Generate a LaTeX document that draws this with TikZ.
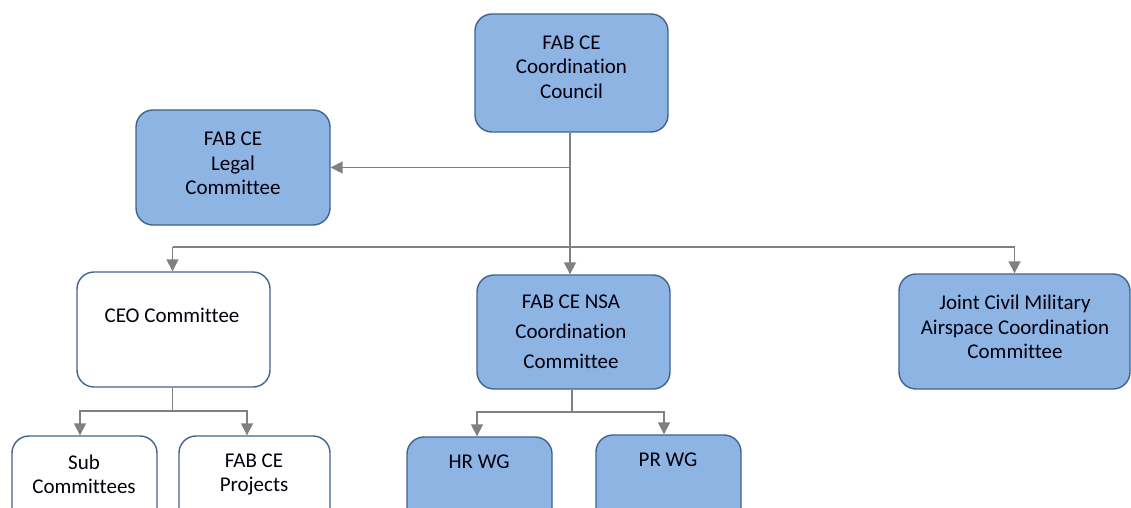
\documentclass[tikz,border=0pt]{standalone}
\usepackage{fontspec}
\setmainfont{Carlito}[Ligatures={NoCommon}]
\usetikzlibrary{arrows.meta}
\definecolor{boxblue}{HTML}{8EB4E3}
\definecolor{boxedge}{HTML}{41648F}
\definecolor{conn}{HTML}{808080}
\begin{document}
\begin{tikzpicture}[x=1pt,y=-1pt,
  box/.style={draw=boxedge,line width=1.4pt,rounded corners=17pt,inner sep=0pt,fill=boxblue},
  wbox/.style={box,fill=white},
  txt/.style={align=center,font=\fontsize{21}{24.5}\selectfont,inner sep=0pt,text=black!95!blue},
  line/.style={draw=conn,line width=1.7pt},
  arr/.style={line,-{Triangle[length=12pt,width=12pt]},shorten >=0pt}]
\useasboundingbox (0,0) rectangle (1131,508);
\clip (0,0) rectangle (1131,508);
% boxes
\node[box,minimum width=193pt,minimum height=118pt] (council) at (571.5,73) {};
\node[box,minimum width=194pt,minimum height=115pt] (legal) at (233,167.5) {};
\node[wbox,minimum width=193pt,minimum height=115pt] (ceo) at (173.5,329.5) {};
\node[box,minimum width=193pt,minimum height=114pt] (nsa) at (573.5,332) {};
\node[box,minimum width=231pt,minimum height=115pt] (joint) at (1014.5,331.5) {};
\node[wbox,minimum width=145pt,minimum height=100pt] (sub) at (84.5,486) {};
\node[wbox,minimum width=151pt,minimum height=100pt] (proj) at (254.5,486) {};
\node[box,minimum width=145pt,minimum height=100pt] (hr) at (479.5,487) {};
\node[box,minimum width=145pt,minimum height=100pt] (pr) at (668.5,485) {};
% texts
\node[txt] (tcouncil) at (571.5,67) {FAB CE\\Coordination\\Council};
\node[txt] (tlegal) at (233,163.5) {FAB CE\\Legal\\Committee};
\node[txt] (tceo) at (172,315) {CEO Committee};
\node[txt,font=\fontsize{21}{30}\selectfont] (tnsa) at (571,332) {FAB CE NSA\\Coordination\\Committee};
\node[txt] (tjoint) at (1015,327) {Joint Civil Military\\Airspace Coordination\\Committee};
\node[txt] (tsub) at (84,474.5) {Sub\\Committees};
\node[txt] (tproj) at (254,474.5) {FAB CE\\Projects};
\node[txt] (thr) at (479,462) {HR WG};
\node[txt] (tpr) at (668,460) {PR WG};
% connectors
\coordinate (bus) at (0,247);
\coordinate (ceosplit) at (0,411);
\coordinate (nsasplit) at (0,412);
\draw[arr] ([xshift=-1.5pt]council.south) -- ([xshift=-1.5pt]council.south |- nsa.north);
\draw[arr] ([xshift=-1.5pt]council.south |- legal.east) -- (legal.east);
\draw[line] ([xshift=-1pt]bus -| ceo.north) -- (bus -| joint.north);
\draw[arr] ([xshift=-1pt]bus -| ceo.north) -- ([xshift=-1pt]ceo.north);
\draw[arr] (bus -| joint.north) -- (joint.north);
\draw[line] ([xshift=-1pt]ceo.south) -- ([xshift=-1pt]ceosplit -| ceo.south);
\draw[arr] ([xshift=-1pt]ceosplit -| ceo.south) -| ([xshift=-4.5pt]sub.north);
\draw[arr] ([xshift=-1pt]ceosplit -| ceo.south) -| ([xshift=-7.5pt]proj.north);
\draw[line] ([xshift=-1.5pt]nsa.south) -- ([xshift=-1.5pt]nsasplit -| nsa.south);
\draw[arr] ([xshift=-1.5pt]nsasplit -| nsa.south) -| ([xshift=-2.5pt]hr.north);
\draw[arr] ([xshift=-1.5pt]nsasplit -| nsa.south) -| ([xshift=-4.5pt]pr.north);
\end{tikzpicture}
\end{document}
